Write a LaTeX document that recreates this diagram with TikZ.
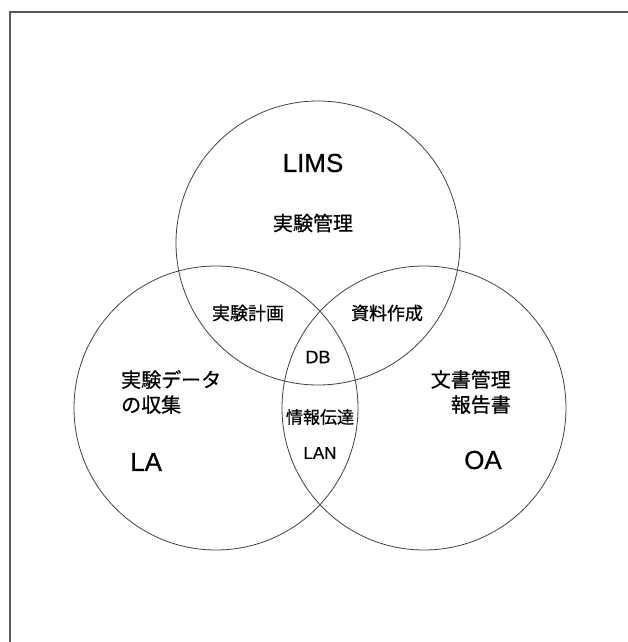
\documentclass[tikz,border=0pt]{standalone}
\usepackage{fontspec}
\setmainfont{Liberation Sans}[FakeBold=0]
\newfontfamily\lat{Liberation Sans}[FakeBold=0.6]
\newfontfamily\cjk{Noto Sans CJK JP}[FakeBold=0.6]
\begin{document}
\begin{tikzpicture}[x=1pt,y=-1pt,
  ring/.style={draw=black!75,line width=0.8pt},
  frameline/.style={draw=black!65,line width=1.6pt},
  big/.style={font=\lat\fontsize{26}{26}\selectfont,inner sep=0pt},
  jp/.style={font=\cjk\fontsize{#1}{#1}\selectfont,inner sep=0pt},
  jp/.default=19]
\useasboundingbox (0,0) rectangle (628,642);
\coordinate (tl) at (10,12);
\coordinate (tr) at (628,12);
\coordinate (bl) at (10,642);
\draw[frameline] (tr) -- (tl) -- (bl);
\node[ring,circle,minimum size=284pt,inner sep=0pt] (lims) at (318,243) {};
\node[ring,circle,minimum size=284pt,inner sep=0pt] (la) at (216,408) {};
\node[ring,circle,minimum size=284pt,inner sep=0pt] (oa) at (424,408) {};
\node[big] (t1) at (313,163) {LIMS};
\node[jp=20] (t2) at (313,223) {実験管理};
\node[jp=18] (t3) at (248,313) {実験計画};
\node[jp=18] (t4) at (387,313) {資料作成};
\node[font=\lat\fontsize{18}{18}\selectfont,inner sep=0pt] (t5) at (318,357) {DB};
\node[jp=20,anchor=west,align=left,font=\cjk\fontsize{20}{25}\selectfont] (t6) at (121,392) {実験データ\\の収集};
\node[big,anchor=west] (t7) at (130,462) {LA};
\node[jp=17] (t8) at (320,417) {情報伝達};
\node[font=\lat\fontsize{17}{17}\selectfont,inner sep=0pt] (t9) at (320,453) {LAN};
\node[jp=20,anchor=east,align=right,font=\cjk\fontsize{20}{25}\selectfont] (t10) at (511,392) {文書管理\\報告書};
\node[big] (t11) at (483,460) {OA};
\end{tikzpicture}
\end{document}
